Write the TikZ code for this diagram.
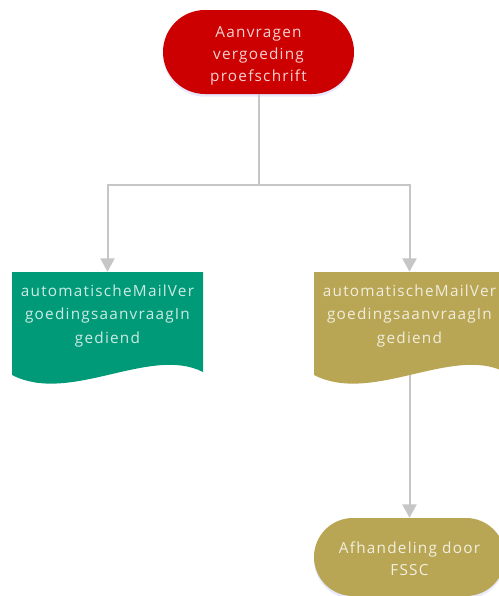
\documentclass[tikz,border=0pt]{standalone}
\usepackage{fontspec}
\setmainfont{Open Sans}[LetterSpace=8]
\usetikzlibrary{shapes.misc,arrows.meta,shadows}
\definecolor{tred}{HTML}{CC0000}
\definecolor{tteal}{HTML}{009A78}
\definecolor{tolive}{HTML}{B8A654}
\definecolor{conncol}{HTML}{C6C6C6}
\newcommand\docshape[2]{%
  \begin{scope}[shift={(#1.center)}]
    \fill[#2] (-95.5,-51.5) -- (95.5,-51.5) -- (95.5,48.5)
      .. controls (42.5,21.5) and (-37.5,81.5) .. (-95.5,51.5) -- cycle;
  \end{scope}}
\begin{document}
\begin{tikzpicture}[x=0.75pt,y=-0.75pt,
  lbl/.style={font=\fontsize{11.5}{16.5}\selectfont, align=center, inner sep=0pt},
  term/.style={rounded rectangle, minimum width=143.25pt, minimum height=63pt,
    inner sep=0pt, drop shadow={shadow xshift=0pt, shadow yshift=-2pt, fill=blue!25!white, opacity=0.35}},
  docbox/.style={rectangle, minimum width=143.25pt, minimum height=77.25pt, inner sep=0pt},
  doctext/.style={lbl, font=\fontsize{11.5}{17.5}\selectfont},
  conn/.style={draw=conncol, line width=1.5pt},
  tip/.style={-{Triangle[width=10.5pt,length=10pt]}}]
\useasboundingbox (0,0) rectangle (499,596);
\fill[white] (0,0) rectangle (499,596);

\node[docbox] (d1) at (107.5,323.5) {};
\node[docbox] (d2) at (409.5,323.5) {};
\node[term, fill=tred, label={[lbl, text=white!82!tred, yshift=-3pt]center:Aanvragen\\vergoeding\\proefschrift}] (start) at (258.5,52) {};
\node[term, fill=tolive, minimum height=58.5pt, label={[lbl, text=white!82!tolive, yshift=-1pt]center:Afhandeling door\\FSSC}] (end) at (409.5,557) {};

\coordinate (j) at (start.south |- 0,185);
\draw[conn] (start.south) -- (j);
\draw[conn,tip] (j) -| (d1.north);
\draw[conn,tip] (j) -| (d2.north);
\draw[conn,tip] (d2.center) -- (end.north);

\docshape{d1}{tteal}
\docshape{d2}{tolive}
\node[doctext, text=white!80!tteal] (d1t) at (107.5,316) {automatischeMailVer\\goedingsaanvraagIn\\gediend};
\node[doctext, text=white!80!tolive] (d2t) at (409.5,316) {automatischeMailVer\\goedingsaanvraagIn\\gediend};
\end{tikzpicture}
\end{document}
